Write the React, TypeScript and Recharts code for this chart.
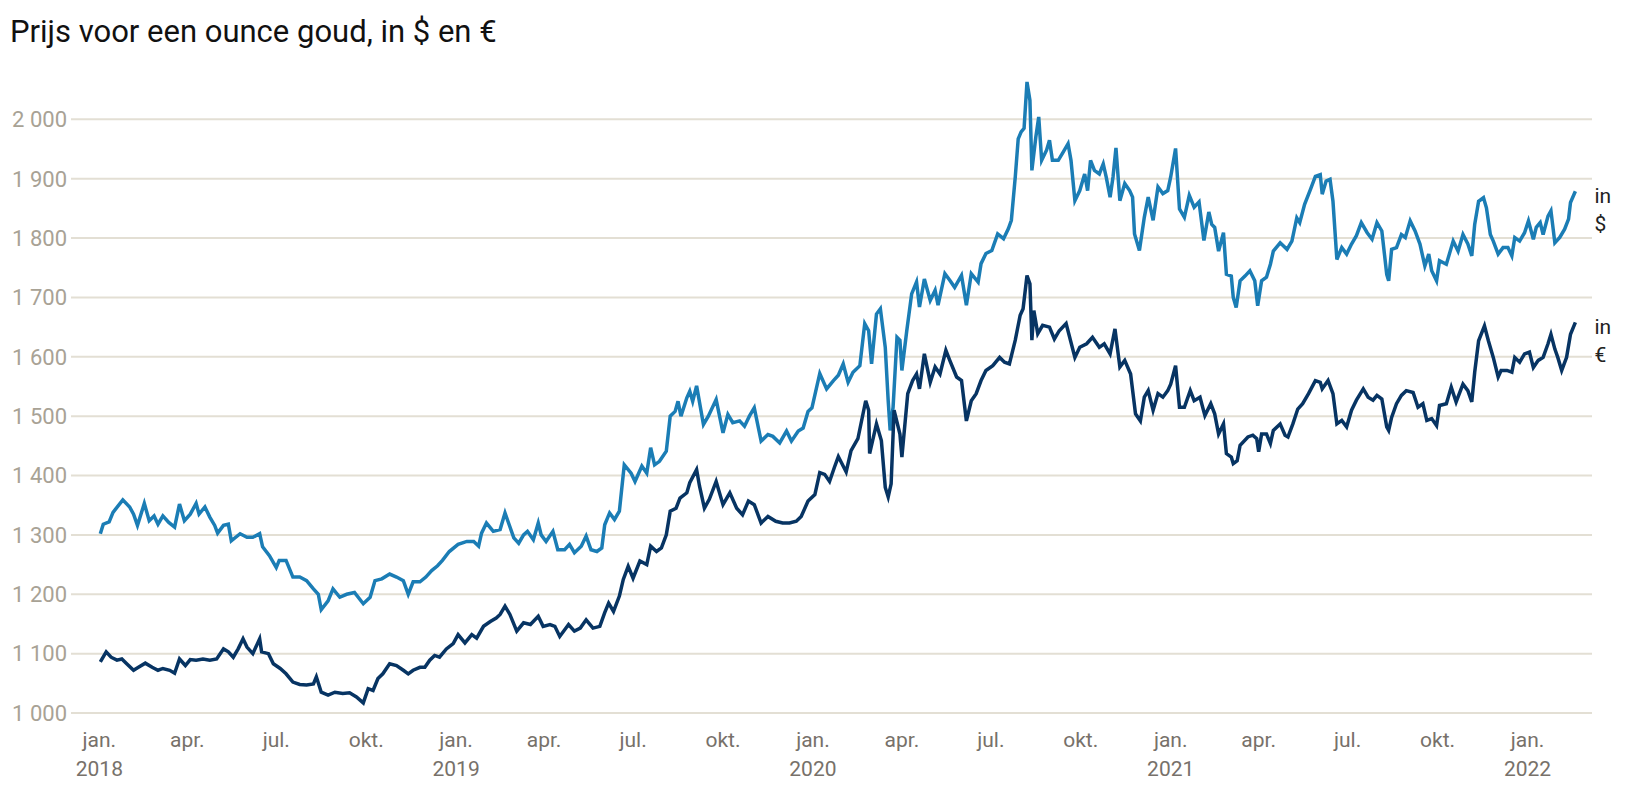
import { LineChart, Line, XAxis, YAxis, CartesianGrid, LabelList } from "recharts";

// gold price per ounce
const usdDates = [
  "2018-01-02", "2018-01-05", "2018-01-11", "2018-01-15", "2018-01-25", "2018-02-01", "2018-02-05", "2018-02-09",
  "2018-02-16", "2018-02-21", "2018-02-26", "2018-03-02", "2018-03-07", "2018-03-13", "2018-03-19", "2018-03-24",
  "2018-03-29", "2018-04-04", "2018-04-10", "2018-04-13", "2018-04-19", "2018-04-24", "2018-04-29", "2018-05-02",
  "2018-05-08", "2018-05-13", "2018-05-16", "2018-05-25", "2018-06-01", "2018-06-07", "2018-06-14", "2018-06-17",
  "2018-06-24", "2018-07-01", "2018-07-04", "2018-07-11", "2018-07-18", "2018-07-25", "2018-08-01", "2018-08-08",
  "2018-08-13", "2018-08-16", "2018-08-23", "2018-08-28", "2018-09-04", "2018-09-11", "2018-09-19", "2018-09-28",
  "2018-10-05", "2018-10-10", "2018-10-17", "2018-10-25", "2018-11-01", "2018-11-08", "2018-11-13", "2018-11-18",
  "2018-11-25", "2018-12-01", "2018-12-07", "2018-12-13", "2018-12-18", "2018-12-25",
  "2019-01-03", "2019-01-12", "2019-01-19", "2019-01-24", "2019-01-27", "2019-02-01", "2019-02-08", "2019-02-15",
  "2019-02-20", "2019-02-23", "2019-03-01", "2019-03-06", "2019-03-11", "2019-03-15", "2019-03-21", "2019-03-26",
  "2019-03-29", "2019-04-03", "2019-04-10", "2019-04-15", "2019-04-22", "2019-04-27", "2019-05-02", "2019-05-09",
  "2019-05-14", "2019-05-19", "2019-05-25", "2019-05-30", "2019-06-02", "2019-06-07", "2019-06-12", "2019-06-17",
  "2019-06-22", "2019-06-29", "2019-07-03", "2019-07-10", "2019-07-15", "2019-07-19", "2019-07-23", "2019-07-28",
  "2019-08-04", "2019-08-08", "2019-08-13", "2019-08-16", "2019-08-19", "2019-08-25", "2019-08-28", "2019-08-31",
  "2019-09-04", "2019-09-11", "2019-09-16", "2019-09-24", "2019-10-01", "2019-10-06", "2019-10-11", "2019-10-18",
  "2019-10-23", "2019-10-28", "2019-11-02", "2019-11-09", "2019-11-16", "2019-11-21", "2019-11-28", "2019-12-05",
  "2019-12-10", "2019-12-17", "2019-12-22", "2019-12-27", "2019-12-31",
  "2020-01-08", "2020-01-15", "2020-01-22", "2020-01-27", "2020-02-01", "2020-02-06", "2020-02-11", "2020-02-18",
  "2020-02-23", "2020-02-27", "2020-03-01", "2020-03-06", "2020-03-10", "2020-03-15", "2020-03-18", "2020-03-20",
  "2020-03-23", "2020-03-27", "2020-03-30", "2020-04-01", "2020-04-06", "2020-04-11", "2020-04-16", "2020-04-19",
  "2020-04-24", "2020-04-30", "2020-05-05", "2020-05-08", "2020-05-15", "2020-05-20", "2020-05-25", "2020-06-01",
  "2020-06-06", "2020-06-11", "2020-06-18", "2020-06-21", "2020-06-26", "2020-07-02", "2020-07-08", "2020-07-14",
  "2020-07-19", "2020-07-22", "2020-07-26", "2020-07-29", "2020-08-01", "2020-08-04", "2020-08-07", "2020-08-10",
  "2020-08-12", "2020-08-16", "2020-08-19", "2020-08-22", "2020-08-27", "2020-08-30", "2020-09-02", "2020-09-08",
  "2020-09-13", "2020-09-18", "2020-09-21", "2020-09-25", "2020-09-30", "2020-10-05", "2020-10-08", "2020-10-11",
  "2020-10-15", "2020-10-20", "2020-10-24", "2020-10-27", "2020-10-31", "2020-11-03", "2020-11-06", "2020-11-10",
  "2020-11-15", "2020-11-20", "2020-11-23", "2020-11-25", "2020-11-30", "2020-12-05", "2020-12-09", "2020-12-14",
  "2020-12-19", "2020-12-24", "2020-12-29",
  "2021-01-01", "2021-01-06", "2021-01-10", "2021-01-15", "2021-01-20", "2021-01-25", "2021-01-30", "2021-02-04",
  "2021-02-09", "2021-02-12", "2021-02-15", "2021-02-19", "2021-02-24", "2021-02-27", "2021-03-04", "2021-03-06",
  "2021-03-09", "2021-03-13", "2021-03-18", "2021-03-23", "2021-03-28", "2021-03-31", "2021-04-04", "2021-04-09",
  "2021-04-13", "2021-04-16", "2021-04-23", "2021-04-30", "2021-05-05", "2021-05-10", "2021-05-13", "2021-05-18",
  "2021-05-24", "2021-05-29", "2021-06-03", "2021-06-05", "2021-06-09", "2021-06-13", "2021-06-16", "2021-06-20",
  "2021-06-25", "2021-06-30", "2021-07-05", "2021-07-10", "2021-07-15", "2021-07-21", "2021-07-26", "2021-07-31",
  "2021-08-05", "2021-08-10", "2021-08-12", "2021-08-15", "2021-08-20", "2021-08-25", "2021-08-29", "2021-09-03",
  "2021-09-08", "2021-09-13", "2021-09-18", "2021-09-22", "2021-09-25", "2021-09-30", "2021-10-03", "2021-10-10",
  "2021-10-17", "2021-10-22", "2021-10-27", "2021-11-01", "2021-11-05", "2021-11-08", "2021-11-12", "2021-11-17",
  "2021-11-20", "2021-11-24", "2021-11-27", "2021-12-02", "2021-12-07", "2021-12-12", "2021-12-16", "2021-12-19",
  "2021-12-24", "2021-12-29",
  "2022-01-02", "2022-01-07", "2022-01-10", "2022-01-14", "2022-01-17", "2022-01-22", "2022-01-25", "2022-01-29",
  "2022-02-03", "2022-02-08", "2022-02-12", "2022-02-14", "2022-02-19",
];
const usdValues = [
  1302, 1318, 1322, 1338, 1359, 1347, 1335, 1316,
  1353, 1324, 1332, 1318, 1332, 1321, 1313, 1352,
  1324, 1335, 1353, 1335, 1347, 1330, 1316, 1303,
  1316, 1318, 1290, 1302, 1296, 1296, 1302, 1280,
  1265, 1245, 1257, 1257, 1229, 1229, 1223, 1209,
  1200, 1174, 1189, 1209, 1195, 1200, 1203, 1184,
  1195, 1223, 1226, 1234, 1229, 1223, 1200, 1221,
  1221, 1229, 1240, 1248, 1257, 1272,
  1284, 1289, 1289, 1281, 1303, 1320, 1306, 1309,
  1337, 1323, 1295, 1286, 1300, 1306, 1292, 1320,
  1300, 1289, 1306, 1275, 1275, 1284, 1270, 1281,
  1298, 1275, 1272, 1278, 1317, 1337, 1326, 1340,
  1418, 1404, 1390, 1416, 1404, 1447, 1418, 1424,
  1441, 1500, 1508, 1525, 1500, 1531, 1542, 1525,
  1551, 1486, 1500, 1528, 1472, 1503, 1489, 1492,
  1483, 1500, 1514, 1458, 1469, 1466, 1455, 1475,
  1458, 1475, 1480, 1508, 1514,
  1572, 1546, 1560, 1569, 1588, 1557, 1574, 1585,
  1656, 1644, 1588, 1672, 1681, 1616, 1526, 1476,
  1515, 1633, 1628, 1577, 1644, 1706, 1726, 1684,
  1731, 1695, 1712, 1687, 1740, 1729, 1717, 1737,
  1687, 1740, 1726, 1757, 1774, 1779, 1807, 1799,
  1816, 1830, 1903, 1967, 1979, 1985, 2063, 2032,
  1914, 1970, 2004, 1931, 1948, 1965, 1931, 1931,
  1945, 1959, 1931, 1863, 1880, 1908, 1880, 1931,
  1914, 1908, 1925, 1903, 1869, 1903, 1952, 1863,
  1892, 1880, 1869, 1807, 1779, 1835, 1869, 1830,
  1886, 1875, 1880,
  1903, 1951, 1849, 1835, 1872, 1852, 1861, 1796,
  1844, 1823, 1818, 1778, 1809, 1739, 1736, 1700,
  1683, 1728, 1736, 1745, 1728, 1686, 1728, 1734,
  1756, 1778, 1792, 1781, 1795, 1834, 1826, 1857,
  1882, 1904, 1907, 1874, 1896, 1899, 1862, 1764,
  1784, 1773, 1790, 1804, 1826, 1809, 1798, 1826,
  1812, 1739, 1728, 1781, 1784, 1806, 1801, 1829,
  1812, 1790, 1753, 1773, 1745, 1728, 1762, 1756,
  1795, 1778, 1806, 1790, 1770, 1823, 1862, 1868,
  1851, 1806, 1795, 1773, 1784, 1784, 1770, 1801,
  1795, 1809,
  1829, 1798, 1818, 1826, 1806, 1837, 1846, 1792,
  1801, 1815, 1832, 1860, 1879,
];

const eurDates = [
  "2018-01-02", "2018-01-08", "2018-01-13", "2018-01-19", "2018-01-24", "2018-01-29", "2018-02-05", "2018-02-10",
  "2018-02-17", "2018-02-24", "2018-03-02", "2018-03-07", "2018-03-14", "2018-03-19", "2018-03-24", "2018-03-30",
  "2018-04-04", "2018-04-10", "2018-04-17", "2018-04-24", "2018-05-01", "2018-05-08", "2018-05-13", "2018-05-18",
  "2018-05-23", "2018-05-28", "2018-06-01", "2018-06-07", "2018-06-14", "2018-06-16", "2018-06-23", "2018-06-28",
  "2018-07-05", "2018-07-11", "2018-07-18", "2018-07-25", "2018-08-01", "2018-08-08", "2018-08-11", "2018-08-16",
  "2018-08-23", "2018-08-30", "2018-09-07", "2018-09-14", "2018-09-21", "2018-09-28", "2018-10-03", "2018-10-08",
  "2018-10-13", "2018-10-18", "2018-10-25", "2018-11-01", "2018-11-08", "2018-11-13", "2018-11-18", "2018-11-25",
  "2018-11-30", "2018-12-05", "2018-12-10", "2018-12-15", "2018-12-22", "2018-12-29",
  "2019-01-03", "2019-01-10", "2019-01-17", "2019-01-22", "2019-01-29", "2019-02-05", "2019-02-11", "2019-02-15",
  "2019-02-20", "2019-02-25", "2019-03-04", "2019-03-11", "2019-03-18", "2019-03-26", "2019-03-31", "2019-04-07",
  "2019-04-12", "2019-04-17", "2019-04-26", "2019-05-02", "2019-05-08", "2019-05-14", "2019-05-21", "2019-05-28",
  "2019-06-02", "2019-06-06", "2019-06-11", "2019-06-17", "2019-06-21", "2019-06-26", "2019-07-01", "2019-07-08",
  "2019-07-15", "2019-07-19", "2019-07-25", "2019-07-30", "2019-08-04", "2019-08-08", "2019-08-14", "2019-08-18",
  "2019-08-25", "2019-08-28", "2019-09-04", "2019-09-07", "2019-09-12", "2019-09-17", "2019-09-24", "2019-10-01",
  "2019-10-08", "2019-10-15", "2019-10-21", "2019-10-27", "2019-11-02", "2019-11-09", "2019-11-16", "2019-11-24",
  "2019-12-01", "2019-12-08", "2019-12-15", "2019-12-20", "2019-12-27",
  "2020-01-03", "2020-01-08", "2020-01-13", "2020-01-18", "2020-01-23", "2020-01-27", "2020-02-04", "2020-02-09",
  "2020-02-16", "2020-02-24", "2020-02-27", "2020-02-28", "2020-03-06", "2020-03-11", "2020-03-15", "2020-03-18",
  "2020-03-21", "2020-03-24", "2020-03-30", "2020-04-01", "2020-04-07", "2020-04-12", "2020-04-16", "2020-04-19",
  "2020-04-24", "2020-04-30", "2020-05-05", "2020-05-10", "2020-05-16", "2020-05-20", "2020-05-27", "2020-06-01",
  "2020-06-06", "2020-06-11", "2020-06-16", "2020-06-21", "2020-06-26", "2020-07-03", "2020-07-10", "2020-07-15",
  "2020-07-20", "2020-07-26", "2020-07-31", "2020-08-03", "2020-08-07", "2020-08-10", "2020-08-12", "2020-08-14",
  "2020-08-18", "2020-08-23", "2020-08-30", "2020-09-04", "2020-09-09", "2020-09-16", "2020-09-25", "2020-09-30",
  "2020-10-07", "2020-10-13", "2020-10-20", "2020-10-25", "2020-10-31", "2020-11-05", "2020-11-10", "2020-11-15",
  "2020-11-21", "2020-11-26", "2020-12-01", "2020-12-05", "2020-12-09", "2020-12-14", "2020-12-19", "2020-12-24",
  "2020-12-29",
  "2021-01-01", "2021-01-06", "2021-01-10", "2021-01-15", "2021-01-21", "2021-01-25", "2021-01-31", "2021-02-05",
  "2021-02-11", "2021-02-15", "2021-02-19", "2021-02-24", "2021-02-27", "2021-03-04", "2021-03-06", "2021-03-10",
  "2021-03-13", "2021-03-21", "2021-03-26", "2021-03-30", "2021-04-01", "2021-04-04", "2021-04-09", "2021-04-13",
  "2021-04-16", "2021-04-23", "2021-04-28", "2021-05-01", "2021-05-06", "2021-05-11", "2021-05-16", "2021-05-22",
  "2021-05-29", "2021-06-03", "2021-06-05", "2021-06-11", "2021-06-16", "2021-06-20", "2021-06-25", "2021-06-30",
  "2021-07-05", "2021-07-10", "2021-07-17", "2021-07-22", "2021-07-27", "2021-07-31", "2021-08-05", "2021-08-10",
  "2021-08-12", "2021-08-15", "2021-08-20", "2021-08-25", "2021-08-30", "2021-09-06", "2021-09-11", "2021-09-16",
  "2021-09-20", "2021-09-25", "2021-09-30", "2021-10-03", "2021-10-10", "2021-10-15", "2021-10-20", "2021-10-27",
  "2021-11-01", "2021-11-05", "2021-11-08", "2021-11-12", "2021-11-18", "2021-11-22", "2021-11-27", "2021-12-02",
  "2021-12-05", "2021-12-11", "2021-12-16", "2021-12-19", "2021-12-24", "2021-12-29",
  "2022-01-03", "2022-01-07", "2022-01-12", "2022-01-17", "2022-01-22", "2022-01-25", "2022-01-29", "2022-02-01",
  "2022-02-05", "2022-02-10", "2022-02-14", "2022-02-19",
];
const eurValues = [
  1086, 1103, 1094, 1089, 1091, 1083, 1072, 1077,
  1084, 1077, 1072, 1075, 1072, 1067, 1091, 1080,
  1090, 1089, 1091, 1089, 1091, 1108, 1103, 1094,
  1108, 1125, 1111, 1100, 1125, 1103, 1100, 1083,
  1075, 1066, 1052, 1048, 1047, 1049, 1061, 1035,
  1030, 1035, 1033, 1034, 1027, 1017, 1041, 1038,
  1058, 1066, 1083, 1080, 1072, 1066, 1072, 1077,
  1077, 1089, 1097, 1094, 1108, 1117,
  1132, 1118, 1132, 1126, 1146, 1154, 1160, 1166,
  1180, 1166, 1138, 1152, 1149, 1163, 1146, 1149,
  1146, 1129, 1149, 1138, 1143, 1157, 1143, 1146,
  1169, 1185, 1171, 1197, 1225, 1247, 1227, 1256,
  1250, 1281, 1272, 1278, 1300, 1340, 1345, 1362,
  1371, 1388, 1410, 1382, 1345, 1360, 1390, 1351,
  1371, 1345, 1334, 1357, 1351, 1320, 1331, 1323,
  1320, 1320, 1323, 1331, 1357,
  1368, 1405, 1402, 1390, 1414, 1432, 1406, 1442,
  1462, 1526, 1510, 1437, 1487, 1459, 1380, 1364,
  1386, 1510, 1470, 1431, 1538, 1560, 1571, 1546,
  1605, 1557, 1583, 1571, 1611, 1594, 1566, 1560,
  1492, 1526, 1538, 1560, 1577, 1585, 1599, 1591,
  1588, 1628, 1670, 1681, 1737, 1723, 1628, 1678,
  1639, 1653, 1650, 1630, 1644, 1656, 1599, 1616,
  1622, 1633, 1616, 1622, 1605, 1647, 1583, 1594,
  1571, 1504, 1492, 1532, 1543, 1510, 1538, 1532,
  1543,
  1554, 1585, 1515, 1515, 1543, 1526, 1532, 1501,
  1521, 1504, 1470, 1487, 1437, 1431, 1420, 1425,
  1451, 1465, 1468, 1462, 1440, 1470, 1470, 1454,
  1476, 1487, 1468, 1465, 1487, 1512, 1521, 1538,
  1560, 1557, 1546, 1560, 1538, 1487, 1493, 1482,
  1510, 1527, 1546, 1532, 1527, 1535, 1529, 1482,
  1476, 1498, 1521, 1535, 1543, 1540, 1515, 1521,
  1493, 1496, 1484, 1518, 1521, 1549, 1524, 1554,
  1543, 1524, 1574, 1627, 1652, 1627, 1599, 1566,
  1577, 1577, 1574, 1599, 1591, 1605,
  1608, 1582, 1594, 1599, 1622, 1638, 1613, 1599,
  1577, 1599, 1638, 1658,
];

const quarterTicks = [
  "2018-01-01", "2018-04-01", "2018-07-01", "2018-10-01",
  "2019-01-01", "2019-04-01", "2019-07-01", "2019-10-01",
  "2020-01-01", "2020-04-01", "2020-07-01", "2020-10-01",
  "2021-01-01", "2021-04-01", "2021-07-01", "2021-10-01",
  "2022-01-01",
];
const monthNames: Record<number, string> = { 0: "jan.", 3: "apr.", 6: "jul.", 9: "okt." };
const yTicks = [1000, 1100, 1200, 1300, 1400, 1500, 1600, 1700, 1800, 1900, 2000];

const toTime = (d: string) => {
  const [y, m, day] = d.split("-").map(Number);
  return Date.UTC(y, m - 1, day);
};

const usdData = usdDates.map((d, i) => ({ t: toTime(d), v: usdValues[i] }));
const eurData = eurDates.map((d, i) => ({ t: toTime(d), v: eurValues[i] }));

const USD_COLOR = "#1b7db5";
const EUR_COLOR = "#073463";
const FONT = "Roboto, sans-serif";

const formatThousands = (v: number) =>
  v >= 1000 ? `${Math.floor(v / 1000)} ${String(v % 1000).padStart(3, "0")}` : String(v);

function XTick({ x, y, payload }: any) {
  const d = new Date(payload.value);
  const m = d.getUTCMonth();
  return (
    <g>
      <text x={x} y={y + 34} textAnchor="middle" fill="#77716a" fontSize={21} fontFamily={FONT}>
        {monthNames[m]}
      </text>
      {m === 0 && (
        <text x={x} y={y + 63} textAnchor="middle" fill="#77716a" fontSize={21} fontFamily={FONT}>
          {d.getUTCFullYear()}
        </text>
      )}
    </g>
  );
}

// "in $" / "in €" next to the last point of a line
const endLabel = (symbol: string, last: number) => (props: any) => {
  const { x, y, index } = props;
  if (index !== last) return null;
  return (
    <g>
      <text x={x + 19} y={y + 12} fill="#222" fontSize={21} fontFamily={FONT}>in</text>
      <text x={x + 19} y={y + 40} fill="#222" fontSize={21} fontFamily={FONT}>{symbol}</text>
    </g>
  );
};

export default function App() {
  return (
    <div style={{ position: "relative", width: 1624, height: 784, background: "#fff" }}>
      <div
        style={{
          position: "absolute",
          left: 2,
          top: 8,
          fontFamily: FONT,
          fontSize: 31,
          lineHeight: 1,
          color: "#111",
          whiteSpace: "nowrap",
        }}
      >
        Prijs voor een ounce goud, in $ en €
      </div>
      <LineChart width={1624} height={784} margin={{ top: 52, right: 40, bottom: 0, left: 0 }}>
        <CartesianGrid vertical={false} horizontalValues={yTicks} stroke="#e3dfd4" strokeWidth={2} />
        <XAxis
          type="number"
          dataKey="t"
          domain={[toTime("2017-12-03"), toTime("2022-03-08")]}
          ticks={quarterTicks.map(toTime)}
          tick={<XTick />}
          height={79}
          axisLine={false}
          tickLine={false}
          tickSize={0}
          tickMargin={0}
          interval={0}
          allowDataOverflow
        />
        <YAxis
          type="number"
          domain={[1000, 2100]}
          ticks={yTicks}
          width={63}
          axisLine={false}
          tickLine={false}
          tickSize={0}
          tickMargin={4}
          interval={0}
          tickFormatter={formatThousands}
          tick={{ fill: "#a8a295", fontSize: 22, fontFamily: FONT }}
        />
        <Line
          data={usdData}
          dataKey="v"
          type="linear"
          stroke={USD_COLOR}
          strokeWidth={3.5}
          dot={false}
          isAnimationActive={false}
        >
          <LabelList dataKey="v" content={endLabel("$", usdData.length - 1)} />
        </Line>
        <Line
          data={eurData}
          dataKey="v"
          type="linear"
          stroke={EUR_COLOR}
          strokeWidth={3.5}
          dot={false}
          isAnimationActive={false}
        >
          <LabelList dataKey="v" content={endLabel("€", eurData.length - 1)} />
        </Line>
      </LineChart>
    </div>
  );
}
